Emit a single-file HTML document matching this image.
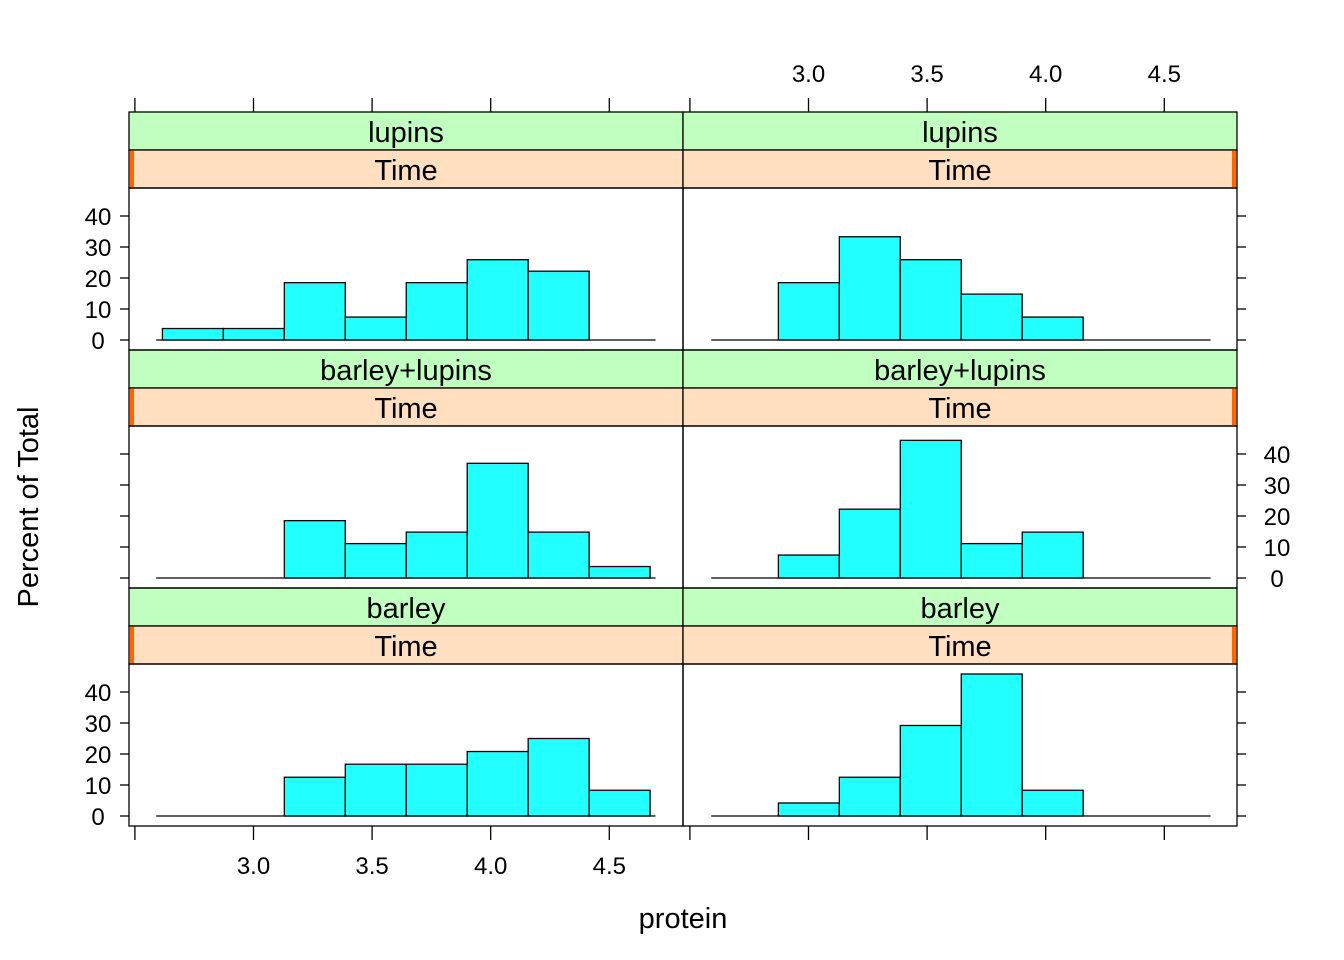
<!DOCTYPE html>
<html><head><meta charset="utf-8"><style>
body{margin:0;background:#fff;}
svg{display:block;font-family:"Liberation Sans",Arial,sans-serif;}
</style></head><body>
<svg id="chart" width="1344" height="960" viewBox="0 0 1344 960" xmlns="http://www.w3.org/2000/svg"></svg>
<script>
// Data
const breaks = [2.616, 2.873, 3.130, 3.387, 3.644, 3.901, 4.158, 4.415, 4.672];
const diets = ["barley", "barley+lupins", "lupins"];
const leftBarley = [0, 0, 12.5, 16.7, 16.7, 20.8, 25, 8.3];
const rightBarley = [0, 4.2, 12.5, 29.2, 45.8, 8.3, 0, 0];
const leftMix = [0, 0, 18.5, 11.1, 14.8, 37.0, 14.8, 3.7];
const rightMix = [0, 7.4, 22.2, 44.4, 11.1, 14.8, 0, 0];
const leftLupins = [3.7, 3.7, 18.5, 7.4, 18.5, 25.9, 22.2, 0];
const rightLupins = [0, 18.5, 33.3, 25.9, 14.8, 7.4, 0, 0];
const xTicks = [2.5, 3.0, 3.5, 4.0, 4.5];
const xTickLabels = ["", "3.0", "3.5", "4.0", "4.5"];
const yTicks = [0, 10, 20, 30, 40];

const NS = "http://www.w3.org/2000/svg";
const svg = document.getElementById("chart");
function el(tag, attrs, parent, text) {
  const e = document.createElementNS(NS, tag);
  for (const k in attrs) e.setAttribute(k, attrs[k]);
  if (text !== undefined) e.textContent = text;
  (parent || svg).appendChild(e);
  return e;
}
const colX0 = [129, 683], colW = 554;
const rowTop = [588, 350, 112];
const xPx = (v, c) => 253.5 + (v - 3.0) * 237.2 + c * 555;
const yPx = (v, r) => rowTop[r] + 228 - v * 3.1;
const dataSets = [[leftBarley, rightBarley], [leftMix, rightMix], [leftLupins, rightLupins]];

for (let r = 0; r < 3; r++) {
  for (let c = 0; c < 2; c++) {
    const g = el("g", {});
    
    
    const x0 = colX0[c], y0 = rowTop[r];
    const s1 = el("rect", {x: x0, y: y0, width: colW, height: 38, fill: "#c1ffc1", stroke: "#000", "stroke-width": 1.3}, g);
    
    
    const t1 = el("text", {x: x0 + colW / 2, y: y0 + 30, "text-anchor": "middle", "font-size": 29}, g, diets[r]);
    
    
    const s2 = el("rect", {x: x0, y: y0 + 38, width: colW, height: 38, fill: "#ffdfbf", stroke: "#000", "stroke-width": 1.3}, g);
    
    
    const m = el("rect", {x: c === 0 ? x0 + 1 : x0 + colW - 5, y: y0 + 38.5, width: 4, height: 37, fill: "#ff6600"}, g);
    
    
    const t2 = el("text", {x: x0 + colW / 2, y: y0 + 68, "text-anchor": "middle", "font-size": 29}, g, "Time");
    
    
    const bl = el("line", {x1: xPx(2.59, c), x2: xPx(4.695, c), y1: yPx(0, r), y2: yPx(0, r), stroke: "#000", "stroke-width": 1.3}, g);
    
    
    const vals = dataSets[r][c];
    vals.forEach((v, i) => {
      if (v <= 0) return;
      const xa = xPx(breaks[i], c), xb = xPx(breaks[i + 1], c);
      const b = el("rect", {x: xa, y: yPx(v, r), width: xb - xa, height: yPx(0, r) - yPx(v, r), fill: "#22ffff", stroke: "#000", "stroke-width": 1.3}, g);
      
      
    });
    const f = el("rect", {x: x0, y: y0 + 76, width: colW, height: 162, fill: "none", stroke: "#000", "stroke-width": 1.3}, g);
    
    
    const side = c === 0 ? -1 : 1;
    const xe = c === 0 ? x0 : x0 + colW;
    yTicks.forEach(t => {
      const tk = el("line", {x1: xe, x2: xe + side * 9, y1: yPx(t, r), y2: yPx(t, r), stroke: "#000", "stroke-width": 1.3}, g);
      
      
      const labeled = (c === 0 && r !== 1) || (c === 1 && r === 1);
      if (labeled) {
        const lt = el("text", {x: c === 0 ? xe - 31 : xe + 40, y: yPx(t, r) + 9, "text-anchor": "middle", "font-size": 24}, g, String(t));
        
        
      }
    });
  }
}
for (let c = 0; c < 2; c++) {
  xTicks.forEach((t, i) => {
    const x = xPx(t, c);
    const tt = el("line", {x1: x, x2: x, y1: 98, y2: 112, stroke: "#000", "stroke-width": 1.3});
    
    
    const tb = el("line", {x1: x, x2: x, y1: 826, y2: 840, stroke: "#000", "stroke-width": 1.3});
    
    
    if (xTickLabels[i]) {
      const y = c === 0 ? 874 : 82;
      const lt = el("text", {x: x, y: y, "text-anchor": "middle", "font-size": 24}, svg, xTickLabels[i]);
      
      
    }
  });
}
const xl = el("text", {x: 683, y: 928, "text-anchor": "middle", "font-size": 29}, svg, "protein");


const yl = el("text", {x: 0, y: 0, "text-anchor": "middle", "font-size": 29, transform: "translate(38,507) rotate(-90)"}, svg, "Percent of Total");


</script>
</body></html>
